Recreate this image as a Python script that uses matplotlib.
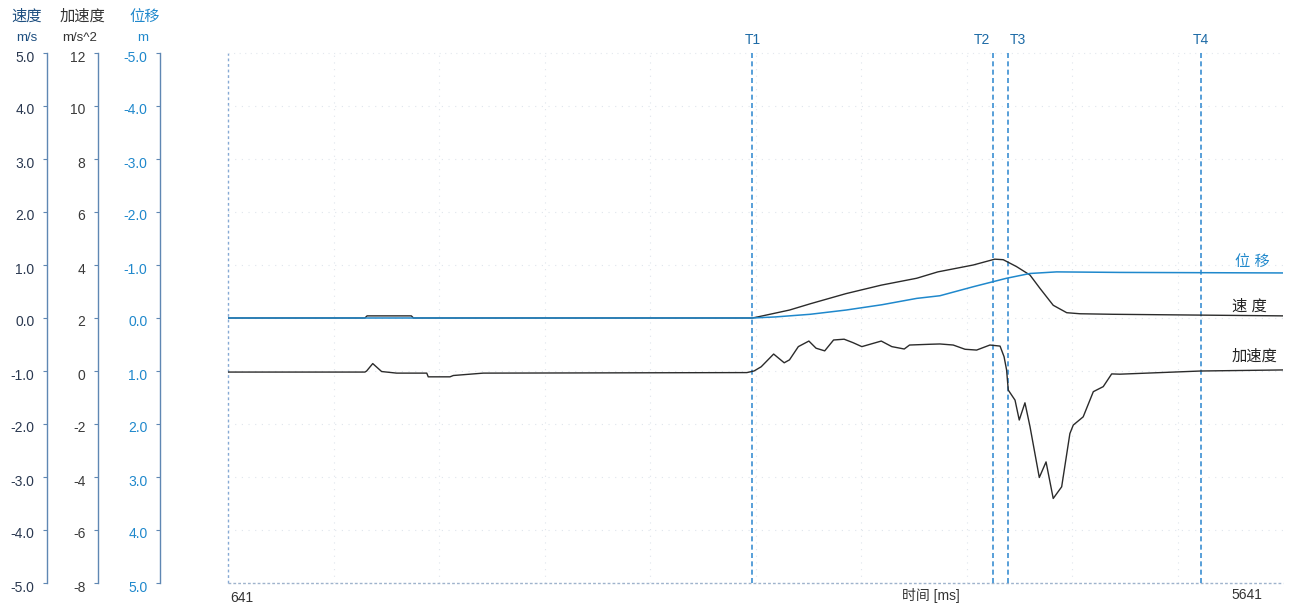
import numpy as np
import matplotlib
matplotlib.use('Agg')
import matplotlib.pyplot as plt
import matplotlib.transforms as mtransforms

plt.rcParams['font.family'] = ['Liberation Sans', 'Noto Sans CJK SC', 'DejaVu Sans']

# time axis [ms]
t_start, t_end = 641, 5641

# markers
marker_names = ['T1', 'T2', 'T3', 'T4']
marker_times = [3126, 4268, 4338, 5252]

# velocity [m/s]
vel_t = [641, 1290, 1300, 1510, 1520, 3126, 3151, 3302, 3402, 3570, 3737, 3905, 4005,
         4173, 4275, 4315, 4378, 4442, 4489, 4552, 4616, 4679, 4835, 5641]
vel_v = [0.0, 0.0, 0.04, 0.04, 0.0, 0.0, 0.02, 0.15, 0.27, 0.46, 0.62, 0.75, 0.87,
         1.0, 1.11, 1.10, 0.97, 0.81, 0.56, 0.24, 0.10, 0.08, 0.07, 0.04]

# acceleration [m/s^2]
acc_t = [641, 1290, 1298, 1327, 1369, 1440, 1583, 1590, 1693, 1709, 1851, 3100,
         3134, 3168, 3227, 3277, 3302, 3344, 3394, 3428, 3469, 3511, 3561, 3603,
         3645, 3737, 3787, 3846, 3871, 3972, 4015, 4078, 4134, 4189, 4252, 4300,
         4319, 4331, 4339, 4355, 4371, 4391, 4418, 4442, 4486, 4518, 4552, 4592,
         4631, 4647, 4694, 4742, 4789, 4829, 4868, 5252, 5641]
acc_a = [-0.04, -0.04, 0.0, 0.28, -0.02, -0.08, -0.08, -0.22, -0.22, -0.17, -0.08, -0.06,
         0.0, 0.16, 0.64, 0.31, 0.42, 0.92, 1.13, 0.86, 0.76, 1.17, 1.2, 1.07,
         0.92, 1.13, 0.92, 0.83, 0.98, 1.01, 1.02, 0.98, 0.82, 0.79, 0.98, 0.94,
         0.54, 0.04, -0.72, -0.91, -1.1, -1.85, -1.2, -2.1, -4.02, -3.43, -4.81, -4.37,
         -2.36, -2.04, -1.73, -0.78, -0.59, -0.11, -0.12, 0.0, 0.04]

# displacement [m] (axis is inverted)
dis_t = [641, 3126, 3235, 3400, 3570, 3740, 3905, 4015, 4173, 4331, 4442, 4568, 4868, 5641]
dis_d = [0.0, 0.0, -0.02, -0.07, -0.15, -0.25, -0.37, -0.42, -0.59, -0.75, -0.84, -0.87, -0.86, -0.85]

vel_ticks = np.arange(-5, 6, 1)
acc_ticks = np.arange(-8, 13, 2)
dis_ticks = np.arange(-5, 6, 1)

c_dark = '#2b2b2b'
c_blue = '#1f88cc'
c_spine = '#5f87b3'
c_tlab = '#1c6aa6'

fig = plt.figure(figsize=(12.94, 6.09), dpi=100)
ax = fig.add_axes([228 / 1294, 26 / 609, 1055 / 1294, 530 / 609])
ax_a = ax.twinx()
ax_d = ax.twinx()

ax.set_xlim(t_start, t_end)
ax.set_ylim(-5, 5)
ax_a.set_ylim(-8, 12)
ax_d.set_ylim(5, -5)

# faint grid
for g in np.arange(t_start + 500, t_end, 500):
    ax.axvline(g, color='#dfe5ec', lw=0.8, ls=(0, (1, 5)), zorder=0)
for g in vel_ticks[1:-1]:
    ax.axhline(g, color='#dfe5ec', lw=0.8, ls=(0, (1, 5)), zorder=0)

# frame lines
ax.axvline(t_start, color='#86a9d4', lw=1.0, ls=(0, (2, 2)), clip_on=False)
ax.axhline(-5, color='#9fb3cc', lw=1.0, ls=(0, (2, 1.5)), clip_on=False)
ax.axhline(5, color='#e3e8ee', lw=0.8, ls=(0, (1, 4)), clip_on=False)

# marker lines
for name, tm in zip(marker_names, marker_times):
    ax.axvline(tm, color='#3b8fd2', lw=1.2, ls=(0, (3, 2)), zorder=3)
ha_map = {'T1': 'center', 'T2': 'right', 'T3': 'left', 'T4': 'center'}
dx_map = {'T1': 0, 'T2': -3, 'T3': 2, 'T4': 0}
for name, tm in zip(marker_names, marker_times):
    ax.annotate(name, (tm, 5), xytext=(dx_map[name], 6), textcoords='offset pixels',
                ha=ha_map[name], va='bottom', color=c_tlab, fontsize=10)

# curves
ax.plot(vel_t, vel_v, color=c_dark, lw=1.0, zorder=4)
ax_a.plot(acc_t, acc_a, color=c_dark, lw=1.0, zorder=4)
ax_d.plot(dis_t, dis_d, color=c_blue, lw=1.1, zorder=5)

# curve labels at right
ax.text(5495, 1.05, '位 移', color=c_blue, fontsize=11, ha='center', va='center')
ax.text(5480, 0.22, '速 度', color='#222222', fontsize=11, ha='center', va='center')
ax.text(5505, -0.73, '加速度', color='#222222', fontsize=11, ha='center', va='center')

# left axes
shift_down = mtransforms.ScaledTranslation(0, -3 / 100, fig.dpi_scale_trans)

def style_axis(a, ticks, fmt, offset_px, color):
    for s in ['top', 'right', 'bottom']:
        a.spines[s].set_visible(False)
    a.spines['left'].set_visible(True)
    a.spines['left'].set_position(('outward', offset_px * 72 / 100))
    a.spines['left'].set_color(c_spine)
    a.spines['left'].set_linewidth(1.0)
    a.yaxis.set_ticks_position('left')
    a.set_yticks(ticks)
    a.set_yticklabels([fmt.format(v) for v in ticks])
    a.tick_params(axis='y', direction='out', length=3, width=0.8, color=c_spine,
                  pad=6, labelsize=10, labelcolor=color)
    a.tick_params(axis='x', bottom=False, labelbottom=False)
    for lab in a.get_yticklabels():
        lab.set_transform(lab.get_transform() + shift_down)

style_axis(ax, vel_ticks, '{:.1f}', 181, '#2a3850')
style_axis(ax_a, acc_ticks, '{:d}', 130, '#3a3a3a')
style_axis(ax_d, dis_ticks, '{:.1f}', 68, c_blue)

# headers
fig.text(27 / 1294, 1 - 17 / 609, '速度', color='#1e4f80', fontsize=11, ha='center', va='center')
fig.text(27 / 1294, 1 - 38 / 609, 'm/s', color='#1e4f80', fontsize=9.5, ha='center', va='center')
fig.text(82 / 1294, 1 - 17 / 609, '加速度', color='#333333', fontsize=11, ha='center', va='center')
fig.text(80 / 1294, 1 - 38 / 609, 'm/s^2', color='#333333', fontsize=9.5, ha='center', va='center')
fig.text(145 / 1294, 1 - 17 / 609, '位移', color=c_blue, fontsize=11, ha='center', va='center')
fig.text(143 / 1294, 1 - 38 / 609, 'm', color=c_blue, fontsize=9.5, ha='center', va='center')

# x axis texts
ax.annotate(str(t_start), (t_start, -5), xytext=(2, -8), textcoords='offset pixels',
            ha='left', va='top', fontsize=10, color='#333333')
ax.annotate(str(t_end), (t_end, -5), xytext=(-21, -5), textcoords='offset pixels',
            ha='right', va='top', fontsize=10, color='#333333')
ax.annotate('时间 [ms]', ((t_start + t_end) / 2, -5), xytext=(175, -5), textcoords='offset pixels',
            ha='center', va='top', fontsize=10, color='#333333')

fig.savefig('out.png', dpi=100)
